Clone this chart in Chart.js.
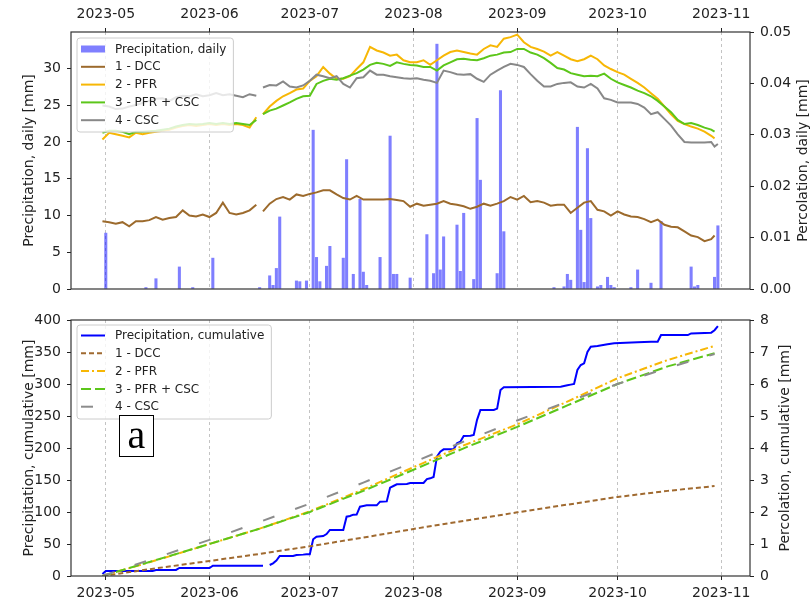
<!DOCTYPE html>
<html>
<head>
<meta charset="utf-8">
<script src="https://cdn.jsdelivr.net/npm/chart.js@4.4.0/dist/chart.umd.min.js"></script>
<style>
  body { margin: 0; background: #fff; }
  #wrap { position: relative; width: 811px; height: 600px; }
  canvas { position: absolute; left: 0; }
  #topChart { top: 0; }
  #bottomChart { top: 300px; }
  #tag {
    position: absolute; left: 119px; top: 415px; width: 35px; height: 42px;
    box-sizing: border-box; border: 1px solid #000; background: #fff;
    font-family: "Liberation Serif", serif; font-size: 40px; line-height: 38px;
    text-align: center; color: #000;
  }
</style>
</head>
<body>
<div id="wrap">
  <canvas id="topChart" width="811" height="300"></canvas>
  <canvas id="bottomChart" width="811" height="300"></canvas>
  <div id="tag">a</div>
</div>
<script>
// x values are days counted from 2023-05-01
const monthTicks = [0, 31, 61, 92, 123, 153, 184];
const monthLabels = ['2023-05', '2023-06', '2023-07', '2023-08', '2023-09', '2023-10', '2023-11'];

// daily precipitation [mm] (only rainy days)
const rainDays = [0, 12, 15, 22, 26, 32, 46, 49, 50, 51, 52, 57, 58, 60, 62, 63, 64, 66, 67, 71, 72, 74, 76, 77, 78,
  82, 85, 86, 87, 91, 96, 98, 99, 100, 101, 105, 106, 107, 110, 111, 112, 117, 118, 119, 134, 137, 138, 139, 141,
  142, 143, 144, 145, 147, 148, 150, 151, 152, 157, 159, 163, 166, 175, 176, 177, 182, 183];
const rainMm = [7.6, 0.2, 1.4, 3.0, 0.2, 4.2, 0.2, 1.8, 0.5, 2.8, 9.8, 1.1, 1.0, 1.1, 21.6, 4.3, 1.0, 3.1, 5.8, 4.2, 17.6, 2.0, 12.2, 2.3, 0.5,
  4.3, 20.8, 2.0, 2.0, 1.5, 7.4, 2.1, 33.3, 2.6, 7.1, 8.7, 2.4, 10.3, 1.3, 23.2, 14.8, 2.1, 27.0, 7.8, 0.2, 0.3, 2.0, 1.2, 22.0,
  8.0, 0.9, 19.1, 9.6, 0.3, 0.5, 1.6, 0.5, 0.2, 0.2, 2.6, 0.8, 9.2, 3.0, 0.3, 0.5, 1.6, 8.6];

// daily percolation [mm]
const percDays = [-1, 1, 3, 5, 7, 9, 11, 13, 15, 17,
  19, 21, 23, 25, 27, 29, 31, 33, 35, 37,
  39, 41, 43, 45, 46, 47, 49, 51, 53, 55,
  57, 59, 61, 63, 65, 67, 69, 71, 73, 75,
  77, 79, 81, 83, 85, 87, 89, 91, 93, 95,
  97, 99, 101, 103, 105, 107, 109, 111, 113, 115,
  117, 119, 121, 123, 125, 127, 129, 131, 133, 135,
  137, 139, 141, 143, 145, 147, 149, 151, 153, 155,
  157, 159, 161, 163, 165, 167, 169, 171, 173, 175,
  177, 179, 181, 182, 183];
const percDCC = [0.0132, 0.0130, 0.0127, 0.0130, 0.0122, 0.0132, 0.0132, 0.0134, 0.0140, 0.0135,
  0.0138, 0.0140, 0.0153, 0.0143, 0.0141, 0.0145, 0.0140, 0.0148, 0.0168, 0.0148,
  0.0145, 0.0148, 0.0153, 0.0164, null, 0.0151, 0.0166, 0.0175, 0.0179, 0.0174,
  0.0184, 0.0181, 0.0185, 0.0188, 0.0192, 0.0192, 0.0184, 0.0177, 0.0174, 0.0181,
  0.0174, 0.0174, 0.0174, 0.0174, 0.0175, 0.0173, 0.0171, 0.0160, 0.0166, 0.0162,
  0.0164, 0.0166, 0.0171, 0.0166, 0.0164, 0.0161, 0.0156, 0.0160, 0.0166, 0.0162,
  0.0166, 0.0171, 0.0179, 0.0174, 0.0181, 0.0169, 0.0171, 0.0168, 0.0162, 0.0164,
  0.0164, 0.0148, 0.0158, 0.0168, 0.0171, 0.0154, 0.0151, 0.0143, 0.0151, 0.0145,
  0.0141, 0.0140, 0.0136, 0.0130, 0.0135, 0.0125, 0.0121, 0.0120, 0.0112, 0.0104,
  0.0101, 0.0093, 0.0097, 0.0104, null];
const percPFR = [0.0291, 0.0304, 0.0301, 0.0298, 0.0295, 0.0304, 0.0301, 0.0304, 0.0306, 0.0308,
  0.0310, 0.0314, 0.0317, 0.0319, 0.0317, 0.0319, 0.0321, 0.0319, 0.0321, 0.0319,
  0.0321, 0.0319, 0.0314, 0.0334, null, 0.0340, 0.0355, 0.0366, 0.0375, 0.0381,
  0.0388, 0.0390, 0.0405, 0.0414, 0.0432, 0.0419, 0.0409, 0.0409, 0.0414, 0.0428,
  0.0441, 0.0471, 0.0464, 0.0460, 0.0454, 0.0456, 0.0445, 0.0441, 0.0441, 0.0445,
  0.0436, 0.0445, 0.0454, 0.0461, 0.0464, 0.0461, 0.0458, 0.0456, 0.0467, 0.0474,
  0.0471, 0.0487, 0.0490, 0.0495, 0.0480, 0.0471, 0.0467, 0.0462, 0.0454, 0.0461,
  0.0454, 0.0447, 0.0443, 0.0447, 0.0454, 0.0447, 0.0435, 0.0428, 0.0422, 0.0417,
  0.0409, 0.0401, 0.0392, 0.0381, 0.0370, 0.0355, 0.0340, 0.0327, 0.0321, 0.0316,
  0.0312, 0.0306, 0.0298, 0.0293, null];
const percPFRCSC = [0.0304, 0.0308, 0.0308, 0.0306, 0.0301, 0.0306, 0.0306, 0.0307, 0.0308, 0.0310,
  0.0312, 0.0316, 0.0319, 0.0321, 0.0320, 0.0321, 0.0323, 0.0321, 0.0323, 0.0321,
  0.0323, 0.0321, 0.0319, 0.0329, null, 0.0340, 0.0347, 0.0351, 0.0357, 0.0363,
  0.0370, 0.0375, 0.0376, 0.0399, 0.0405, 0.0409, 0.0407, 0.0410, 0.0415, 0.0420,
  0.0427, 0.0436, 0.0440, 0.0438, 0.0434, 0.0441, 0.0438, 0.0436, 0.0435, 0.0432,
  0.0432, 0.0425, 0.0435, 0.0441, 0.0447, 0.0448, 0.0446, 0.0445, 0.0449, 0.0454,
  0.0456, 0.0460, 0.0461, 0.0467, 0.0467, 0.0460, 0.0456, 0.0449, 0.0440, 0.0430,
  0.0427, 0.0420, 0.0417, 0.0414, 0.0415, 0.0414, 0.0419, 0.0409, 0.0402, 0.0397,
  0.0392, 0.0386, 0.0381, 0.0375, 0.0366, 0.0355, 0.0344, 0.0329, 0.0321, 0.0323,
  0.0319, 0.0314, 0.0310, 0.0306, null];
const percCSC = [0.0357, 0.0355, 0.0350, 0.0351, 0.0355, 0.0358, 0.0362, 0.0366, 0.0370, 0.0371,
  0.0366, 0.0373, 0.0376, 0.0375, 0.0379, 0.0375, 0.0377, 0.0381, 0.0377, 0.0379,
  0.0376, 0.0373, 0.0379, 0.0376, null, 0.0392, 0.0397, 0.0396, 0.0404, 0.0394,
  0.0392, 0.0396, 0.0405, 0.0417, 0.0414, 0.0410, 0.0414, 0.0399, 0.0392, 0.0410,
  0.0412, 0.0425, 0.0417, 0.0417, 0.0414, 0.0412, 0.0410, 0.0409, 0.0410, 0.0407,
  0.0405, 0.0401, 0.0425, 0.0422, 0.0418, 0.0417, 0.0418, 0.0409, 0.0403, 0.0417,
  0.0425, 0.0432, 0.0438, 0.0436, 0.0432, 0.0418, 0.0405, 0.0394, 0.0394, 0.0399,
  0.0401, 0.0402, 0.0394, 0.0392, 0.0399, 0.0390, 0.0371, 0.0368, 0.0363, 0.0363,
  0.0363, 0.0360, 0.0353, 0.0340, 0.0344, 0.0331, 0.0318, 0.0301, 0.0286, 0.0285,
  0.0285, 0.0285, 0.0286, 0.0277, 0.0282];

// cumulative precipitation [mm]
const cumRainDays = [-1, 0, 14, 15, 21, 22, 31, 32, 47, 48, 49, 50, 51, 52, 56, 57, 59, 60, 61, 62,
  63, 65, 66, 67, 71, 72, 73, 74, 75, 76, 77, 78, 81, 82, 84, 85, 86, 87, 90, 91,
  95, 96, 97, 98, 99, 100, 101, 104, 105, 106, 107, 109, 110, 111, 112, 116, 117, 118, 119, 136,
  138, 139, 140, 141, 142, 143, 144, 145, 147, 150, 152, 159, 163, 165, 166, 174, 175, 181, 182, 183];
const cumRain = [3.0, 7.8, 7.8, 9.4, 9.4, 12.5, 12.5, 16.1, 16.1, null, 17.2, 19.8, 24.0, 31.2, 31.2, 32.8, 33.4, 33.9, 33.9, 57.3,
  61.5, 62.5, 65.6, 71.9, 71.9, 92.7, 93.7, 95.8, 96.0, 108.3, 109.4, 110.4, 110.4, 116.1, 116.6, 138.0, 140.6, 143.2, 143.7, 145.3,
  145.3, 151.5, 152.6, 154.7, 186.5, 194.3, 197.9, 197.9, 207.3, 209.8, 218.7, 219.2, 220.3, 244.0, 259.4, 259.4, 261.5, 290.6, 294.8, 295.8,
  298.0, 299.0, 300.0, 321.9, 329.7, 332.3, 350.0, 358.3, 359.4, 362.0, 363.5, 365.1, 366.1, 366.1, 376.5, 376.5, 379.1, 380.2, 384.0, 390.6];

// cumulative percolation [mm]
const cumDays = [-1, 15, 31, 46, 61, 77, 92, 107, 123, 138, 153, 168, 182];
const cumDCC = [0, 0.24, 0.47, 0.69, 0.93, 1.20, 1.47, 1.72, 1.99, 2.23, 2.47, 2.66, 2.81];
const cumPFR = [0, 0.49, 1.00, 1.48, 2.02, 2.71, 3.40, 4.08, 4.74, 5.45, 6.18, 6.75, 7.19];
const cumPFRCSC = [0, 0.50, 1.00, 1.48, 2.00, 2.66, 3.32, 3.99, 4.66, 5.33, 6.00, 6.55, 6.96];
const cumCSC = [0, 0.57, 1.13, 1.69, 2.26, 2.92, 3.56, 4.20, 4.86, 5.45, 6.00, 6.50, 6.94];

const textColor = '#222';
const axisFont = { family: 'DejaVu Sans', size: 14 };
Chart.defaults.font.family = 'DejaVu Sans';

function points(xs, ys) {
  return xs.map((x, i) => ({ x: x, y: ys[i] }));
}

// x axis with a tick at each month start
function monthAxis(position, height) {
  return {
    type: 'linear',
    position: position,
    min: -10.4,
    max: 192.6,
    offset: false,
    afterBuildTicks: axis => { axis.ticks = monthTicks.map(v => ({ value: v })); },
    afterFit: axis => { axis.height = height; },
    ticks: {
      callback: (v, i) => monthLabels[i],
      font: axisFont, color: textColor, padding: 5, maxRotation: 0, autoSkip: false
    },
    grid: { color: '#b4b4b4', lineWidth: 0.8, tickLength: 4, tickColor: '#222', tickWidth: 1, tickBorderDash: [], offset: false },
    border: { display: false, dash: [3, 3] }
  };
}

function valueAxis(position, min, max, step, fmt) {
  return {
    type: 'linear',
    position: position,
    min: min,
    max: max,
    afterFit: axis => {
      axis.width = position === 'left' ? 71 : 61;
      // labels may hang over the plot edges, the layout padding covers them
      axis.paddingTop = 0;
      axis.paddingBottom = 0;
    },
    ticks: { stepSize: step, includeBounds: false, font: axisFont, color: textColor, padding: 6, callback: fmt },
    grid: { drawOnChartArea: false, tickLength: 4, tickColor: '#222' },
    border: { display: false }
  };
}

// black box round the plot area
const frame = {
  id: 'frame',
  afterDraw(chart) {
    const { ctx, chartArea: a } = chart;
    ctx.save();
    ctx.strokeStyle = '#333';
    ctx.lineWidth = 1.2;
    ctx.strokeRect(a.left, a.top, a.right - a.left, a.bottom - a.top);
    ctx.restore();
  }
};

// y axis titles, both read from bottom to top
const sideTitles = {
  id: 'sideTitles',
  afterDraw(chart, args, opts) {
    const { ctx, chartArea: a } = chart;
    const midY = (a.top + a.bottom) / 2;
    ctx.save();
    ctx.font = '14px "DejaVu Sans"';
    ctx.fillStyle = textColor;
    ctx.textAlign = 'center';
    ctx.textBaseline = 'middle';
    [[29, opts.left], [opts.rightX, opts.right]].forEach(([x, text]) => {
      ctx.save();
      ctx.translate(x, midY);
      ctx.rotate(-Math.PI / 2);
      ctx.fillText(text, 0, 0);
      ctx.restore();
    });
    ctx.restore();
  }
};

// legend box in the upper left corner of the plot
const boxLegend = {
  id: 'boxLegend',
  afterDraw(chart, args, opts) {
    const { ctx, chartArea: a } = chart;
    const sets = chart.data.datasets;
    ctx.save();
    ctx.font = '12px "DejaVu Sans"';
    const textW = Math.max(...sets.map(ds => ctx.measureText(ds.label).width));
    const x0 = a.left + 6;
    const y0 = a.top + opts.top;
    const w = textW + 45;
    const h = sets.length * opts.step + 5;

    ctx.beginPath();
    ctx.roundRect(x0, y0, w, h, 3);
    ctx.fillStyle = 'rgba(255,255,255,0.8)';
    ctx.fill();
    ctx.strokeStyle = '#cccccc';
    ctx.lineWidth = 1;
    ctx.stroke();

    sets.forEach((ds, k) => {
      const cy = y0 + opts.first + k * opts.step;
      if (ds.type === 'bar') {
        ctx.fillStyle = ds.backgroundColor;
        ctx.fillRect(x0 + 4, cy - 3.5, 24, 7);
      } else {
        ctx.beginPath();
        ctx.setLineDash(ds.borderDash || []);
        ctx.strokeStyle = ds.borderColor;
        ctx.lineWidth = ds.borderWidth;
        ctx.moveTo(x0 + 4, cy);
        ctx.lineTo(x0 + 28, cy);
        ctx.stroke();
        ctx.setLineDash([]);
      }
      ctx.fillStyle = textColor;
      ctx.textBaseline = 'middle';
      ctx.fillText(ds.label, x0 + 38, cy + 0.5);
    });
    ctx.restore();
  }
};

function lineSet(label, xs, ys, color, axis, order, dash) {
  return {
    type: 'line',
    label: label,
    data: points(xs, ys),
    yAxisID: axis,
    borderColor: color,
    borderWidth: 2,
    borderDash: dash || [],
    pointRadius: 0,
    tension: 0,
    spanGaps: false,
    order: order
  };
}

// Top chart: daily values
new Chart(document.getElementById('topChart'), {
  type: 'line',
  data: {
    datasets: [
      {
        type: 'bar',
        label: 'Precipitation, daily',
        data: points(rainDays, rainMm),
        yAxisID: 'yL',
        backgroundColor: 'rgba(0,0,255,0.5)',
        borderWidth: 0,
        barThickness: 2.4,
        order: 5
      },
      lineSet('1 - DCC', percDays, percDCC, '#9c6a2c', 'yR', 4),
      lineSet('2 - PFR', percDays, percPFR, '#f7b705', 'yR', 3),
      lineSet('3 - PFR + CSC', percDays, percPFRCSC, '#5cc61a', 'yR', 2),
      lineSet('4 - CSC', percDays, percCSC, '#888888', 'yR', 1)
    ]
  },
  options: {
    responsive: false,
    animation: false,
    layout: { padding: { top: 0, left: 0, right: 0, bottom: 11 } },
    scales: {
      x: monthAxis('top', 32),
      yL: valueAxis('left', 0, 34.95, 5, v => v),
      yR: valueAxis('right', 0, 0.05, 0.01, v => v.toFixed(2))
    },
    plugins: {
      legend: { display: false },
      tooltip: { enabled: false },
      sideTitles: { left: 'Precipitation, daily [mm]', right: 'Percolation, daily [mm]', rightX: 803 },
      boxLegend: { top: 6, first: 11, step: 17.8 }
    }
  },
  plugins: [frame, sideTitles, boxLegend]
});

// Bottom chart: cumulative values
new Chart(document.getElementById('bottomChart'), {
  type: 'line',
  data: {
    datasets: [
      lineSet('Precipitation, cumulative', cumRainDays, cumRain, '#0000ff', 'yL', 5),
      lineSet('1 - DCC', cumDays, cumDCC, '#a06a30', 'yR', 4, [5, 3]),
      lineSet('2 - PFR', cumDays, cumPFR, '#f7b705', 'yR', 3, [8, 3, 2, 3]),
      lineSet('3 - PFR + CSC', cumDays, cumPFRCSC, '#5cc61a', 'yR', 2, [10, 4]),
      lineSet('4 - CSC', cumDays, cumCSC, '#8c8c8c', 'yR', 1, [12, 22])
    ]
  },
  options: {
    responsive: false,
    animation: false,
    layout: { padding: { top: 20, left: 0, right: 0, bottom: 0 } },
    scales: {
      x: monthAxis('bottom', 24),
      yL: valueAxis('left', 0, 400, 50, v => v),
      yR: valueAxis('right', 0, 8, 1, v => v)
    },
    plugins: {
      legend: { display: false },
      tooltip: { enabled: false },
      sideTitles: { left: 'Precipitation, cumulative [mm]', right: 'Percolation, cumulative [mm]', rightX: 785 },
      boxLegend: { top: 5, first: 10.5, step: 17.8 }
    }
  },
  plugins: [frame, sideTitles, boxLegend]
});
</script>
</body>
</html>
